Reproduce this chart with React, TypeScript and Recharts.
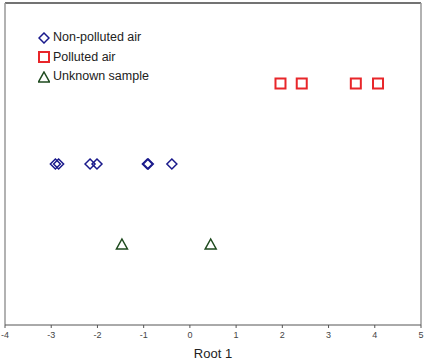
import React from 'react';
import { ScatterChart, Scatter, XAxis, YAxis, ReferenceLine } from 'recharts';

// Root 1 scores; y is just the group row
const nonPollutedX = [-2.91, -2.84, -2.16, -2.01, -0.92, -0.9, -0.39];
const pollutedX = [1.96, 2.42, 3.59, 4.07];
const unknownX = [-1.47, 0.45];
const xTicks = [-4, -3, -2, -1, 0, 1, 2, 3, 4, 5];

const nonPolluted = nonPollutedX.map((x) => ({ x, y: 2 }));
const polluted = pollutedX.map((x) => ({ x, y: 3 }));
const unknown = unknownX.map((x) => ({ x, y: 1 }));

const BLUE = '#1a1a8c';
const RED = '#e8262a';
const GREEN = '#1e4a1e';

const Diamond = (p: any) => {
    const { cx, cy } = p;
    const r = 5;
    return <path d={`M${cx},${cy - r}L${cx + r},${cy}L${cx},${cy + r}L${cx - r},${cy}Z`} fill="none" stroke={BLUE} strokeWidth={1.5} />;
};

const Square = (p: any) => {
    const { cx, cy } = p;
    return <rect x={cx - 5} y={cy - 5} width={10} height={10} fill="none" stroke={RED} strokeWidth={2} />;
};

const Triangle = (p: any) => {
    const { cx, cy } = p;
    return <path d={`M${cx},${cy - 5.5}L${cx + 5.5},${cy + 4.5}L${cx - 5.5},${cy + 4.5}Z`} fill="none" stroke={GREEN} strokeWidth={1.5} />;
};

const legendItems = [
    { label: 'Non-polluted air', shape: 'diamond' },
    { label: 'Polluted air', shape: 'square' },
    { label: 'Unknown sample', shape: 'triangle' },
];

const LegendIcon = ({ shape }: { shape: string }) => (
    <svg width={12} height={12} style={{ marginRight: 3 }}>
        {shape === 'diamond' && <Diamond cx={6} cy={6} />}
        {shape === 'square' && <Square cx={6} cy={6} />}
        {shape === 'triangle' && <Triangle cx={6} cy={6.5} />}
    </svg>
);

export default function App() {
    return (
        <div style={{ position: 'absolute', left: 0, top: 0, width: 428, height: 360, fontFamily: 'Liberation Sans, Arial, sans-serif' }}>
            <ScatterChart width={428} height={360} margin={{ top: 3, right: 7, left: 5, bottom: 0 }}>
                <XAxis
                    type="number"
                    dataKey="x"
                    domain={[-4, 5]}
                    ticks={xTicks}
                    interval={0}
                    stroke="#555"
                    tickSize={3}
                    tick={{ fontSize: 9, fill: '#444' }}
                    tickMargin={4}
                    height={35}
                    label={{ value: 'Root 1', position: 'insideBottom', offset: 2, fontSize: 13, fill: '#222' }}
                />
                <YAxis type="number" dataKey="y" domain={[0, 4]} hide />
                <ReferenceLine y={4} stroke="#444" strokeWidth={1.5} />
                <ReferenceLine x={-4} stroke="#999" strokeWidth={1.5} />
                <ReferenceLine x={5} stroke="#999" strokeWidth={1.5} />
                <Scatter data={nonPolluted} shape={Diamond} isAnimationActive={false} />
                <Scatter data={polluted} shape={Square} isAnimationActive={false} />
                <Scatter data={unknown} shape={Triangle} isAnimationActive={false} />
            </ScatterChart>
            <div style={{ position: 'absolute', left: 38, top: 28, fontSize: 12.5, color: '#222', lineHeight: '19.5px' }}>
                {legendItems.map((it) => (
                    <div key={it.label} style={{ display: 'flex', alignItems: 'center' }}>
                        <LegendIcon shape={it.shape} />
                        <span>{it.label}</span>
                    </div>
                ))}
            </div>
        </div>
    );
}
